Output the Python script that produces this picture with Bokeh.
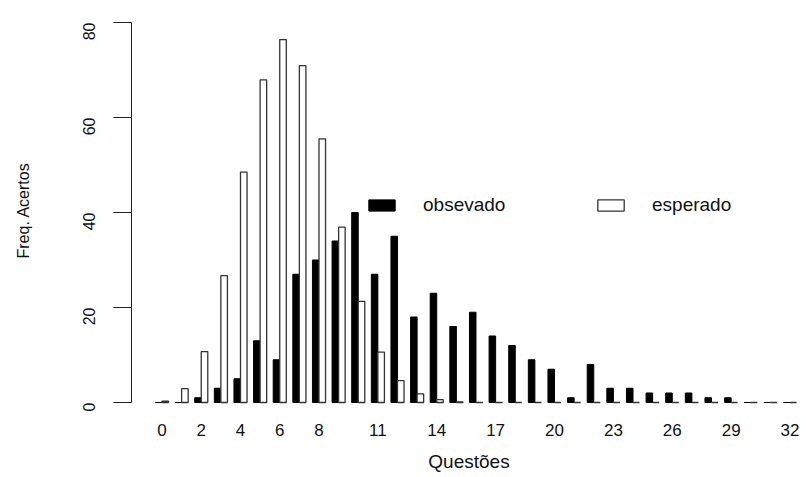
import math
from bokeh.plotting import figure
from bokeh.models import Range1d, FixedTicker, Legend, LegendItem
from bokeh.embed import file_html
from bokeh.resources import INLINE

# ---- data ----
categories = list(range(33))
observado = [0, 0, 1, 3, 5, 13, 9, 27, 30, 34, 40, 27, 35, 18, 23, 16, 19,
             14, 12, 9, 7, 1, 8, 3, 3, 2, 2, 2, 1, 1, 0, 0, 0]
esperado = [0.3, 2.9, 10.7, 26.7, 48.5, 67.9, 76.4, 70.9, 55.5, 36.9, 21.3,
            10.6, 4.6, 1.8, 0.6, 0.15, 0.04, 0.01, 0, 0, 0, 0, 0, 0, 0, 0,
            0, 0, 0, 0, 0, 0, 0]
shown_labels = [0, 2, 4, 6, 8, 11, 14, 17, 20, 23, 26, 29, 32]
y_ticks = [0, 20, 40, 60, 80]
series_names = ["obsevado", "esperado"]
x_title = "Questões"
y_title = "Freq. Acertos"

FONT = "Liberation Sans"
TXT = "#111111"

# R barplot(beside=TRUE) layout: each group = gap of 1 + two bars of width 1
obs_x = [1.5 + 3 * c for c in categories]
esp_x = [2.5 + 3 * c for c in categories]
tick_pos = [2 + 3 * c for c in shown_labels]

p = figure(width=806, height=477, output_backend="svg", toolbar_location=None,
           x_range=Range1d(-2.66, 100.52), y_range=Range1d(-0.632, 81.47),
           min_border_left=131, min_border_right=0, min_border_top=15,
           min_border_bottom=72)
p.outline_line_color = None
p.grid.visible = False
p.background_fill_color = "white"

r1 = p.vbar(x=obs_x, top=observado, bottom=0, width=1, fill_color="black",
            line_color="black", line_width=1)
r2 = p.vbar(x=esp_x, top=esperado, bottom=0, width=1, fill_color="white",
            line_color="#333333", line_width=1.3)

# x axis
xa = p.xaxis[0]
xa.ticker = FixedTicker(ticks=tick_pos)
xa.major_label_overrides = {t: str(c) for t, c in zip(tick_pos, shown_labels)}
xa.axis_line_color = None
xa.major_tick_line_color = None
xa.minor_tick_line_color = None
xa.major_tick_out = 0
xa.major_tick_in = 0
xa.major_label_standoff = 18
xa.major_label_text_font = FONT
xa.major_label_text_font_size = "17px"
xa.major_label_text_color = TXT
xa.axis_label = x_title
xa.axis_label_text_font = FONT
xa.axis_label_text_font_size = "19px"
xa.axis_label_text_font_style = "normal"
xa.axis_label_text_color = TXT
xa.axis_label_standoff = 12

# y axis
ya = p.yaxis[0]
ya.ticker = FixedTicker(ticks=y_ticks)
ya.bounds = (0, 80)
ya.axis_line_color = "#222222"
ya.major_tick_line_color = "#222222"
ya.minor_tick_line_color = None
ya.major_tick_out = 18
ya.major_tick_in = 0
ya.major_label_orientation = math.pi / 2
ya.major_label_standoff = 24
ya.major_label_text_font = FONT
ya.major_label_text_font_size = "16px"
ya.major_label_text_color = TXT
ya.axis_label = y_title
ya.axis_label_text_font = FONT
ya.axis_label_text_font_size = "16px"
ya.axis_label_text_font_style = "normal"
ya.axis_label_text_color = TXT
ya.axis_label_standoff = 43

legend = Legend(items=[LegendItem(label=series_names[0], renderers=[r1]),
                       LegendItem(label=series_names[1], renderers=[r2])],
                orientation="horizontal", location=(234, 189),
                glyph_width=33, glyph_height=14, label_standoff=25,
                label_width=171, spacing=0, padding=0, margin=0,
                border_line_color=None, background_fill_alpha=0,
                label_text_font=FONT, label_text_font_size="19px",
                label_text_color=TXT)
p.add_layout(legend)

open("out.html", "w").write(file_html(p, INLINE))
